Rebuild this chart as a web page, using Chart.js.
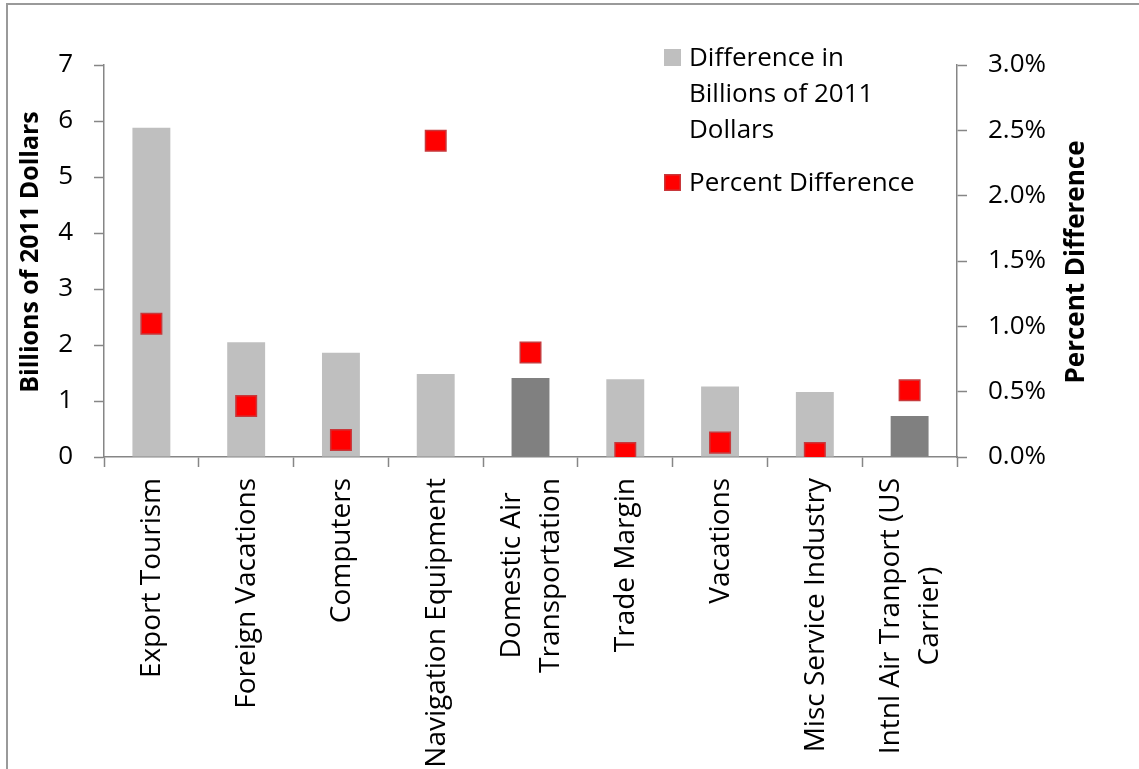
<!DOCTYPE html>
<html>
<head>
<meta charset="utf-8">
<title>Difference by Industry</title>
<script src="https://cdn.jsdelivr.net/npm/chart.js@4.4.1/dist/chart.umd.min.js"></script>
<style>
  html, body { margin: 0; padding: 0; background: #ffffff; }
  #wrap { width: 1139px; height: 769px; position: relative; }
  canvas { display: block; }
</style>
</head>
<body>
<div id="wrap"><canvas id="chart" width="1139" height="769"></canvas></div>
<script>
// Industry categories (a newline marks where a long name wraps)
const categories = [
  'Export Tourism',
  'Foreign Vacations',
  'Computers',
  'Navigation Equipment',
  'Domestic Air\nTransportation',
  'Trade Margin',
  'Vacations',
  'Misc Service Industry',
  'Intnl Air Tranport (US\nCarrier)'
];

// Difference in billions of 2011 dollars (left axis)
const billionsDiff = [5.88, 2.05, 1.86, 1.48, 1.41, 1.39, 1.26, 1.16, 0.73];

// Percent difference (right axis, in percent)
const percentDiff = [1.02, 0.39, 0.13, 2.42, 0.80, 0.03, 0.11, 0.03, 0.51];

// Axis tick values
const billionsTicks = [0, 1, 2, 3, 4, 5, 6, 7];
const percentTicks = [0, 0.5, 1.0, 1.5, 2.0, 2.5, 3.0];

const seriesNames = ['Difference in Billions of 2011 Dollars', 'Percent Difference'];
const axisTitles = ['Billions of 2011 Dollars', 'Percent Difference'];

const FONT = "'Open Sans', 'DejaVu Sans', sans-serif";
const AXIS_GRAY = '#868686';
const LIGHT_BAR = '#BFBFBF';
const DARK_BAR = '#808080';
const MARKER_FILL = '#FF0000';
const MARKER_EDGE = '#C8383B';

// Air transport industries are shaded darker
const barColor = (ctx) => /Air/.test(categories[ctx.dataIndex]) ? DARK_BAR : LIGHT_BAR;

function wrapWords(ctx, text, maxWidth) {
  const words = text.split(' ');
  const lines = [];
  let line = '';
  for (const w of words) {
    const test = line ? line + ' ' + w : w;
    if (line && ctx.measureText(test).width > maxWidth) {
      lines.push(line);
      line = w;
    } else {
      line = test;
    }
  }
  if (line) lines.push(line);
  return lines;
}

// Draws the outer frame, axis titles, rotated category names and the legend
const decorations = {
  id: 'decorations',
  beforeDraw(chart) {
    const c = chart.ctx;
    c.save();
    c.fillStyle = '#ffffff';
    c.fillRect(0, 0, chart.width, chart.height);
    c.strokeStyle = '#9a9a9a';
    c.lineWidth = 2;
    c.beginPath();
    c.moveTo(7, chart.height + 5);
    c.lineTo(7, 4);
    c.lineTo(chart.width + 5, 4);
    c.stroke();
    c.restore();
  },
  afterDraw(chart) {
    const c = chart.ctx;
    const area = chart.chartArea;
    const xScale = chart.scales.x;

    // Axis titles, both reading bottom to top
    c.save();
    c.fillStyle = '#000';
    c.textAlign = 'center';
    c.textBaseline = 'middle';
    const mid = (area.top + area.bottom) / 2;
    [[31, mid - 9, axisTitles[0], 25], [1077, mid + 1, axisTitles[1], 26]].forEach(([x, y, t, size]) => {
      c.save();
      c.font = `bold ${size}px ${FONT}`;
      c.translate(x, y);
      c.rotate(-Math.PI / 2);
      c.fillText(t, 0, 0);
      c.restore();
    });
    c.restore();

    // Category names under the x axis, rotated, lines centred on each other
    c.save();
    c.fillStyle = '#000';
    c.font = `28px ${FONT}`;
    c.textBaseline = 'middle';
    c.textAlign = 'center';
    const labelTop = area.bottom + 21;
    const lineStep = 39;
    categories.forEach((name, i) => {
      const lines = name.split('\n');
      const widest = Math.max(...lines.map(l => c.measureText(l).width));
      const cx = xScale.getPixelForValue(i);
      const cy = labelTop + widest / 2;
      lines.forEach((line, j) => {
        const x = cx + (j - (lines.length - 1) / 2) * lineStep + 1;
        c.save();
        c.translate(x, cy);
        c.rotate(-Math.PI / 2);
        c.fillText(line, 0, 0);
        c.restore();
      });
    });
    c.restore();

    // Legend inside the plot, upper right
    c.save();
    c.font = `26px ${FONT}`;
    c.textAlign = 'left';
    c.textBaseline = 'alphabetic';
    const boxSize = 17;
    const boxX = 664;
    const textX = boxX + 25;
    const lineGap = 36;
    let top = 49;
    chart.data.datasets.slice().reverse().forEach((ds) => {
      const lines = wrapWords(c, ds.label, 236);
      if (ds.type === 'bar') {
        c.fillStyle = LIGHT_BAR;
        c.fillRect(boxX, top, boxSize, boxSize);
      } else {
        c.fillStyle = MARKER_FILL;
        c.fillRect(boxX, top, boxSize, boxSize);
        c.strokeStyle = MARKER_EDGE;
        c.lineWidth = 1.5;
        c.strokeRect(boxX + 0.75, top + 0.75, boxSize - 1.5, boxSize - 1.5);
      }
      c.fillStyle = '#000';
      lines.forEach((line, j) => c.fillText(line, textX, top + boxSize + j * lineGap));
      top += lines.length * lineGap + boxSize;
    });
    c.restore();
  }
};

const tickFont = { family: FONT, size: 26 };

new Chart(document.getElementById('chart').getContext('2d'), {
  data: {
    labels: categories,
    datasets: [
      {
        type: 'line',
        label: seriesNames[1],
        data: percentDiff,
        yAxisID: 'y1',
        showLine: false,
        pointStyle: 'rect',
        pointRadius: 14.5,
        pointHoverRadius: 14.5,
        pointBackgroundColor: MARKER_FILL,
        pointBorderColor: MARKER_EDGE,
        pointBorderWidth: 1.5,
        order: 0
      },
      {
        type: 'bar',
        label: seriesNames[0],
        data: billionsDiff,
        yAxisID: 'y',
        backgroundColor: barColor,
        borderWidth: 0,
        barPercentage: 0.4,
        categoryPercentage: 1.0,
        order: 1
      }
    ]
  },
  options: {
    responsive: false,
    animation: false,
    events: [],
    layout: { padding: { top: 65, left: 0, right: 0, bottom: 0 } },
    plugins: { legend: { display: false }, tooltip: { enabled: false } },
    scales: {
      x: {
        type: 'category',
        offset: true,
        grid: { offset: true, drawOnChartArea: false, tickLength: 10, color: AXIS_GRAY, tickWidth: 1.5 },
        border: { color: AXIS_GRAY, width: 1.5 },
        ticks: { display: false },
        afterFit: (s) => { s.height = 312; }
      },
      y: {
        position: 'left',
        min: 0,
        max: 7,
        afterBuildTicks: (s) => { s.ticks = billionsTicks.map(v => ({ value: v })); },
        ticks: { font: tickFont, color: '#000', padding: 21, callback: (v) => String(v) },
        grid: { drawOnChartArea: false, tickLength: 10, color: AXIS_GRAY, tickWidth: 1.5 },
        border: { color: AXIS_GRAY, width: 1.5 },
        afterFit: (s) => { s.width = 104; }
      },
      y1: {
        position: 'right',
        min: 0,
        max: 3,
        afterBuildTicks: (s) => { s.ticks = percentTicks.map(v => ({ value: v })); },
        ticks: { font: tickFont, color: '#000', padding: 21, callback: (v) => v.toFixed(1) + '%' },
        grid: { drawOnChartArea: false, tickLength: 10, color: AXIS_GRAY, tickWidth: 1.5 },
        border: { color: AXIS_GRAY, width: 1.5 },
        afterFit: (s) => { s.width = 182; }
      }
    }
  },
  plugins: [decorations]
});
</script>
</body>
</html>
